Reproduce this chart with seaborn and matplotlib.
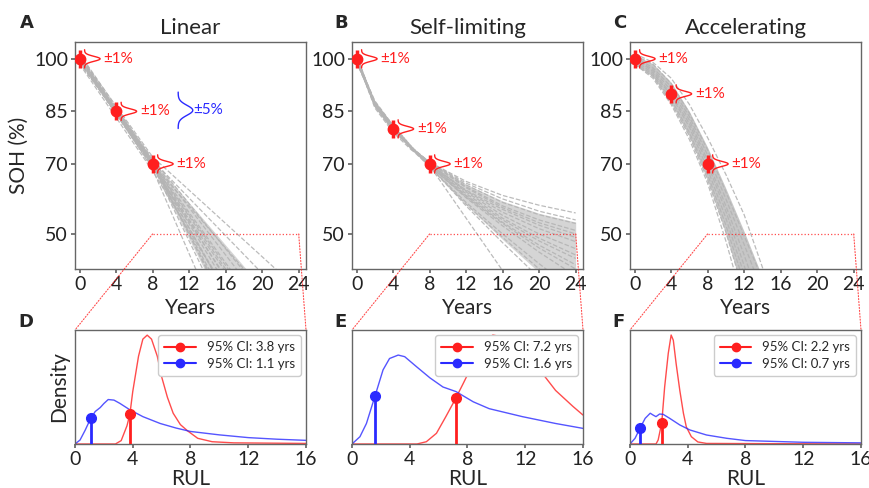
import numpy as np
import pandas as pd
import seaborn as sns
import matplotlib.pyplot as plt
from matplotlib.lines import Line2D
from matplotlib.patches import ConnectionPatch

sns.set_theme(style='white')
plt.rcParams['font.family'] = ['Lato', 'DejaVu Sans']

# ---- data ----
titles = ['Linear', 'Self-limiting', 'Accelerating']
top_letters = ['A', 'B', 'C']
bottom_letters = ['D', 'E', 'F']

# measured SOH points (years, %)
meas_years = [0, 4, 8]
meas_linear = [100, 85, 70]
meas_selflim = [100, 80, 70]
meas_accel = [100, 90, 70]

# linear trajectories: SOH at year 0, 8 and 24
lin_years = [0, 8, 24]
lin_soh0 = [100.5, 100.0, 99.0, 100.0, 101.0, 99.5, 100.0, 100.5, 101.5, 99.0, 100.0, 101.0, 98.5, 99.5,
            100.0, 99.5, 100.5, 101.0, 99.0, 100.0]
lin_soh8 = [68.5, 69.5, 70.0, 70.5, 70.0, 69.0, 70.0, 70.5, 71.0, 70.0, 71.0, 72.0, 68.0, 69.0,
            69.5, 70.5, 69.5, 70.0, 70.5, 71.5]
lin_soh24 = [-28.0, -16.5, -10.0, -4.5, 1.5, 6.5, 10.0, 13.0, 17.0, 22.0, 28.0, 34.0, -0.5, 9.5,
             -7.0, 4.0, -2.0, 12.0, -12.5, 20.0]

# self-limiting trajectories
sl_years = [0, 2, 4, 6, 8, 12, 16, 20, 24]
sl_runs = [
    [100.5, 86.5, 79.5, 74.5, 70.5, 65.0, 61.0, 58.2, 56.0],
    [100.0, 86.5, 80.0, 74.8, 70.5, 64.0, 59.0, 55.5, 53.0],
    [99.5, 86.8, 80.0, 74.7, 70.3, 63.2, 57.5, 53.2, 50.0],
    [100.0, 86.7, 80.0, 74.7, 70.0, 62.3, 56.2, 51.5, 47.8],
    [101.0, 86.7, 80.0, 74.6, 70.0, 62.0, 55.3, 50.0, 45.8],
    [100.0, 87.0, 80.2, 74.6, 69.8, 61.5, 54.5, 48.8, 44.0],
    [99.0, 87.2, 80.5, 74.6, 69.6, 60.8, 53.3, 46.8, 41.2],
    [100.5, 87.5, 80.5, 74.5, 69.5, 60.3, 52.3, 44.8, 38.0],
    [100.0, 87.5, 80.5, 74.2, 69.2, 59.0, 50.0, 41.5, 33.5],
    [99.5, 87.8, 80.8, 74.3, 69.5, 58.0, 47.5, 37.5, 28.0],
    [100.0, 88.0, 81.0, 75.0, 69.5, 54.5, 39.5, 24.5, 9.5],
    [100.0, 86.0, 79.0, 74.0, 70.5, 64.5, 60.0, 56.5, 54.0],
    [99.5, 86.5, 79.5, 74.5, 70.5, 63.5, 58.0, 54.0, 51.0],
    [100.5, 87.0, 80.0, 74.5, 70.0, 61.0, 54.0, 48.0, 43.0],
    [100.0, 87.5, 80.5, 74.5, 69.5, 60.5, 53.0, 46.0, 40.0],
    [101.0, 87.0, 80.5, 74.8, 70.0, 62.5, 57.0, 52.5, 49.0],
    [99.0, 87.5, 81.0, 75.0, 69.0, 58.5, 49.0, 40.0, 31.0],
]

# accelerating trajectories
ac_years = [0, 2, 4, 6, 8, 10, 12, 14, 16]
ac_runs = [
    [101.5, 99.0, 94.5, 87.0, 77.5, 67.0, 55.5, 40.5, 24.0],
    [101.0, 98.5, 93.0, 84.5, 74.0, 62.0, 49.5, 37.0, 24.0],
    [100.5, 97.5, 92.0, 83.5, 72.5, 60.0, 47.0, 33.5, 19.0],
    [100.0, 97.0, 91.0, 82.5, 71.0, 58.0, 44.0, 29.0, 13.0],
    [100.0, 96.5, 90.0, 81.5, 70.0, 56.5, 41.0, 24.0, 6.0],
    [99.5, 96.0, 89.5, 80.5, 68.5, 54.5, 38.5, 21.0, 2.0],
    [99.0, 95.5, 88.5, 79.0, 67.0, 52.5, 36.0, 17.5, -3.0],
    [98.5, 95.0, 87.5, 78.0, 65.5, 50.5, 33.0, 14.0, -7.0],
    [98.5, 94.5, 87.0, 77.0, 64.5, 48.0, 29.5, 11.5, -10.0],
]

# RUL densities (relative height)
d_red_x = [0, 2.8, 3.2, 3.6, 3.8, 4.0, 4.4, 4.7, 5.0, 5.3, 5.7, 6.0, 6.4, 6.8, 7.3, 7.8, 8.5, 9.5, 11, 16]
d_red_y = [0, 0, 0.03, 0.16, 0.26, 0.46, 0.77, 0.92, 0.955, 0.92, 0.77, 0.59, 0.41, 0.27, 0.17, 0.115, 0.05, 0.02, 0.01, 0.005]
d_blue_x = [0, 0.35, 0.7, 1.05, 1.4, 1.75, 2.0, 2.3, 2.7, 3.1, 3.8, 4.7, 5.9, 7.0, 8.0, 10, 12, 14, 16]
d_blue_y = [0, 0.035, 0.12, 0.215, 0.285, 0.32, 0.355, 0.39, 0.385, 0.357, 0.3, 0.24, 0.18, 0.14, 0.11, 0.08, 0.056, 0.042, 0.032]

e_red_x = [0, 4.5, 5.15, 5.85, 6.5, 7.1, 7.7, 8.4, 9.05, 9.75, 10.4, 11.1, 12.0, 13.0, 14.1, 15.3, 16]
e_red_y = [0, 0, 0.02, 0.094, 0.24, 0.38, 0.53, 0.71, 0.87, 0.956, 0.94, 0.88, 0.78, 0.65, 0.47, 0.33, 0.254]
e_blue_x = [0, 0.55, 1.0, 1.65, 2.15, 2.6, 3.2, 3.65, 4.45, 5.4, 6.3, 7.2, 8.4, 9.5, 11.8, 14.1, 16]
e_blue_y = [0, 0.064, 0.18, 0.444, 0.65, 0.75, 0.78, 0.766, 0.68, 0.58, 0.5, 0.46, 0.37, 0.31, 0.24, 0.18, 0.137]

f_red_x = [0, 1.8, 1.95, 2.2, 2.4, 2.65, 2.85, 3.0, 3.2, 3.45, 3.7, 3.9, 4.25, 4.7, 5.3, 16]
f_red_y = [0, 0, 0.035, 0.187, 0.5, 0.795, 0.956, 0.91, 0.7, 0.47, 0.27, 0.15, 0.064, 0.018, 0.005, 0.0]
f_blue_x = [0, 0.35, 0.7, 1.05, 1.4, 1.6, 1.8, 2.05, 2.3, 2.75, 3.45, 4.15, 5.3, 6.7, 8.0, 12, 16]
f_blue_y = [0, 0.05, 0.14, 0.225, 0.27, 0.254, 0.24, 0.263, 0.26, 0.225, 0.167, 0.123, 0.079, 0.05, 0.03, 0.015, 0.01]

ci_red = [3.8, 7.2, 2.2]
ci_blue = [1.1, 1.6, 0.7]

RED = '#ff1f1f'
BLUE = '#2a2aff'
GRAY = '#b4b4b4'


def long_df(years, runs):
    rows = []
    for i, r in enumerate(runs):
        for yr, v in zip(years, r):
            rows.append((i, yr, v))
    return pd.DataFrame(rows, columns=['run', 'year', 'soh'])


lin_runs = [list(t) for t in zip(lin_soh0, lin_soh8, lin_soh24)]
traj = [long_df(lin_years, lin_runs), long_df(sl_years, sl_runs), long_df(ac_years, ac_runs)]
meas = [meas_linear, meas_selflim, meas_accel]
dens = [(d_red_x, d_red_y, d_blue_x, d_blue_y),
        (e_red_x, e_red_y, e_blue_x, e_blue_y),
        (f_red_x, f_red_y, f_blue_x, f_blue_y)]

W, H = 870, 488
fig = plt.figure(figsize=(W / 100, H / 100), dpi=100)
lefts = [75, 352, 630]
top_axes, bot_axes = [], []
for L in lefts:
    top_axes.append(fig.add_axes([L / W, 1 - 269 / H, 231 / W, 227 / H]))
    bot_axes.append(fig.add_axes([L / W, 1 - 444 / H, 231 / W, 114 / H]))


def bump(ax, x0, y0, half, width, color, lw=1.0):
    # little sideways gaussian showing the noise level
    yy = np.linspace(y0 - half, y0 + half, 60)
    xx = x0 + width * np.exp(-((yy - y0) / (half / 2.6)) ** 2)
    ax.plot(xx, yy, color=color, lw=lw)


fill_alpha = [0.55, 0.55, 0.75]
for k, ax in enumerate(top_axes):
    df = traj[k]
    env = df.groupby('year')['soh'].quantile([0.1, 0.9]).unstack().reset_index()
    ax.fill_between(env['year'], env[0.1], env[0.9], color=GRAY, alpha=fill_alpha[k], lw=0)
    sns.lineplot(data=df, x='year', y='soh', units='run', estimator=None,
                 color=GRAY, lw=0.9, linestyle='--', alpha=0.9, ax=ax)
    # measurements with ±1% noise
    for yr, v in zip(meas_years, meas[k]):
        ax.plot([yr, yr], [v - 2.6, v + 2.6], color=RED, lw=2.5, solid_capstyle='butt', zorder=5)
        ax.plot(yr, v, 'o', color=RED, ms=7.5, zorder=6)
        bump(ax, yr + 0.55, v, 2.6, 1.7, RED)
        ax.text(yr + 2.6, v, '±1%', color=RED, fontsize=11, va='center', ha='left')
    # zoom window to RUL panel
    ax.plot([8, 24], [50, 50], ls=':', color=RED, lw=0.9, alpha=0.8)
    ax.set_xlim(-0.5, 24.8)
    ax.set_ylim(40, 104.8)
    ax.set_xticks([0, 4, 8, 12, 16, 20, 24])
    ax.set_yticks([100, 85, 70, 50])
    ax.set_xlabel('Years', fontsize=15, labelpad=4)
    ax.set_ylabel('SOH (%)' if k == 0 else '', fontsize=15)
    ax.set_title(titles[k], fontsize=16, pad=6)

bump(top_axes[0], 10.8, 85.3, 5.2, 1.6, BLUE)
top_axes[0].text(12.4, 85.3, '±5%', color=BLUE, fontsize=11, va='center', ha='left')

for k, ax in enumerate(bot_axes):
    rx, ry, bx, by = dens[k]
    sns.lineplot(x=rx, y=ry, color=RED, lw=1.0, alpha=0.8, ax=ax)
    sns.lineplot(x=bx, y=by, color=BLUE, lw=1.0, alpha=0.8, ax=ax)
    for ci, xs, ys, c in [(ci_red[k], rx, ry, RED), (ci_blue[k], bx, by, BLUE)]:
        h = np.interp(ci, xs, ys)
        ax.plot([ci, ci], [0, h], color=c, lw=2, zorder=5)
        ax.plot(ci, h, 'o', color=c, ms=7, zorder=6)
    handles = [Line2D([], [], color=RED, marker='o', ms=6, lw=1.5),
               Line2D([], [], color=BLUE, marker='o', ms=6, lw=1.5)]
    ax.legend(handles, [f'95% CI: {ci_red[k]} yrs', f'95% CI: {ci_blue[k]} yrs'],
              loc='upper right', fontsize=9.5, handlelength=2.4, borderpad=0.45,
              labelspacing=0.35, framealpha=1, borderaxespad=0.4)
    ax.set_xlim(0, 16)
    ax.set_ylim(0, 1)
    ax.set_xticks([0, 4, 8, 12, 16])
    ax.set_yticks([])
    ax.set_xlabel('RUL', fontsize=15, labelpad=1)
    ax.set_ylabel('Density' if k == 0 else '', fontsize=15)

    for xa, xb in [(8, 0), (24, 1)]:
        con = ConnectionPatch(xyA=(xa, 50), coordsA=top_axes[k].transData,
                              xyB=(xb, 1), coordsB=ax.transAxes,
                              color=RED, lw=0.8, ls=':', alpha=0.8)
        fig.add_artist(con)

for ax in top_axes + bot_axes:
    for s in ax.spines.values():
        s.set_color('#666666')
        s.set_linewidth(1.0)
    ax.tick_params(axis='both', labelsize=14, length=3, color='#666666',
                   labelcolor='#222222', pad=2, bottom=True, left=True)
    ax.tick_params(axis='y', left=(ax in top_axes))

for L, t in zip([20, 334, 613], top_letters):
    fig.text(L / W, 1 - 23 / H, t, fontsize=13, fontweight='bold', family='DejaVu Sans', va='center')
for L, t in zip([18, 334, 612], bottom_letters):
    fig.text(L / W, 1 - 322 / H, t, fontsize=13, fontweight='bold', family='DejaVu Sans', va='center')

fig.savefig('out.png', dpi=100)
